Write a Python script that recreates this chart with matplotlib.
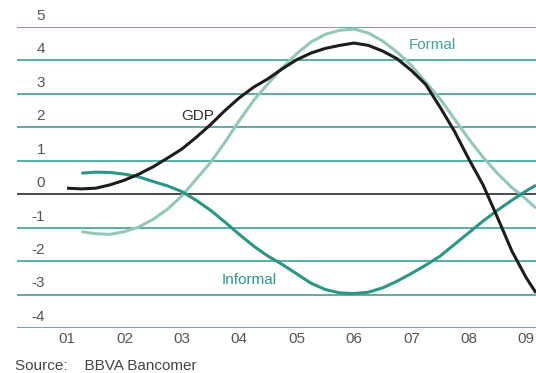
import matplotlib.pyplot as plt
import numpy as np

# quarterly points, years counted from 2001 (label "01")
t_gdp = np.arange(0, 8.25, 0.25)
gdp = [0.18, 0.16, 0.18, 0.28, 0.42, 0.60, 0.82, 1.08, 1.35, 1.70, 2.08, 2.50,
       2.88, 3.20, 3.45, 3.75, 4.02, 4.22, 4.36, 4.45, 4.52, 4.45, 4.28, 4.05,
       3.70, 3.28, 2.60, 1.88, 1.05, 0.27, -0.70, -1.70, -2.50]

t_emp = np.arange(0.25, 8.25, 0.25)
formal = [-1.12, -1.18, -1.20, -1.12, -0.98, -0.75, -0.45, -0.05, 0.45, 0.95,
          1.55, 2.20, 2.80, 3.30, 3.78, 4.20, 4.55, 4.78, 4.90, 4.94, 4.82,
          4.58, 4.25, 3.85, 3.35, 2.85, 2.25, 1.65, 1.10, 0.62, 0.20, -0.15]
informal = [0.63, 0.66, 0.65, 0.60, 0.52, 0.38, 0.25, 0.08, -0.18, -0.48,
            -0.83, -1.20, -1.55, -1.85, -2.10, -2.38, -2.66, -2.85, -2.95,
            -2.97, -2.93, -2.80, -2.60, -2.37, -2.12, -1.85, -1.50, -1.15,
            -0.80, -0.48, -0.18, 0.10]

# last reading at the right edge
t_end = 8.17
gdp_end, formal_end, informal_end = -2.95, -0.42, 0.27

years = ['01', '02', '03', '04', '05', '06', '07', '08', '09']
yticks = list(range(-4, 6))

plt.rcParams['font.family'] = ['Liberation Sans', 'DejaVu Sans']

fig = plt.figure(figsize=(5.36, 3.73), dpi=100)
ax = fig.add_axes([17 / 536, 45 / 373, 1 - 17 / 536, 301 / 373])

grid_c = '#4aa99a'
for y in yticks:
    if y == 0:
        ax.axhline(y, color='#2b2b2b', lw=1.2, zorder=1)
    else:
        ax.axhline(y, color=grid_c, lw=1.3, zorder=1)

ax.plot(list(t_emp) + [t_end], formal + [formal_end], color='#92c8bc', lw=2.2,
        solid_capstyle='butt', zorder=3)
ax.plot(list(t_emp) + [t_end], informal + [informal_end], color='#2a9784', lw=2.2,
        solid_capstyle='butt', zorder=3)
ax.plot(list(t_gdp) + [t_end], gdp + [gdp_end], color='#1d1d1b', lw=2.2,
        solid_capstyle='butt', zorder=4)

ax.set_xlim(-0.871, t_end)
ax.set_ylim(-4, 5)
for s in ax.spines.values():
    s.set_visible(False)
ax.set_xticks([])
ax.set_yticks([])

# y labels sit just above their gridlines
for y in yticks:
    ax.annotate(str(y), xy=(28 / 519, y), xycoords=('axes fraction', 'data'),
                xytext=(0, 3), textcoords='offset points',
                ha='right', va='bottom', fontsize=11, color='#555555',
                annotation_clip=False)

for i, lab in enumerate(years):
    ax.annotate(lab, xy=(i, -4), xycoords='data', xytext=(0, -3),
                textcoords='offset points', ha='center', va='top',
                fontsize=11, color='#555555', annotation_clip=False)

ax.text(2.27, 2.35, 'GDP', fontsize=11, color='#333333', ha='center', va='center')
ax.text(6.36, 4.45, 'Formal', fontsize=11, color='#3fa493', ha='center', va='center')
ax.text(3.17, -2.56, 'Informal', fontsize=11, color='#2a9784', ha='center', va='center')

fig.text(15 / 536, 7 / 373, 'Source:    BBVA Bancomer', fontsize=11,
         color='#444444', ha='left', va='center')

fig.savefig('out.png', dpi=100)
